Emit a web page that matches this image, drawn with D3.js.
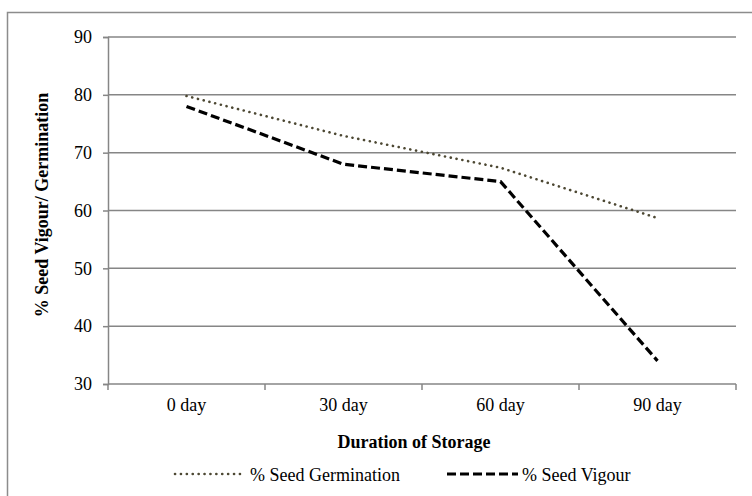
<!DOCTYPE html>
<html>
<head>
<meta charset="utf-8">
<script src="https://cdn.jsdelivr.net/npm/d3@7"></script>
<style>
  body { margin: 0; background: #fff; }
</style>
</head>
<body>
<div id="chart"></div>
<script>
"use strict";

var categories = ["0 day", "30 day", "60 day", "90 day"];
var germination = [79.8, 72.9, 67.4, 58.7];
var vigour = [78, 68, 65, 34];
var yTicks = [30, 40, 50, 60, 70, 80, 90];
var seriesNames = ["% Seed Germination", "% Seed Vigour"];

var FONT = "'Liberation Serif', 'Times New Roman', serif";
var FS = "18px";

var W = 752, H = 496;
var margin = { top: 37, right: 16, bottom: 112, left: 108 },
        width = W - margin.left - margin.right,
        height = H - margin.top - margin.bottom;

var svg = d3.select("#chart")
        .append("svg")
        .attr("width", W)
        .attr("height", H)
        .style("font-family", FONT);

// outer chart border (right and bottom fall outside the picture)
svg.append("rect")
        .attr("x", 7.5).attr("y", 12.5)
        .attr("width", 760).attr("height", 500)
        .attr("fill", "none")
        .attr("stroke", "#8c8c8c")
        .attr("stroke-width", 1.5);

var g = svg.append("g")
        .attr("transform", "translate(" + margin.left + "," + margin.top + ")");

var x = d3.scaleBand()
        .range([0, width])
        .domain(categories)
        .padding(0);

var y = d3.scaleLinear()
        .domain([30, 90])
        .range([height, 0]);

// gridlines
g.selectAll("line.grid")
        .data(yTicks.slice(1))
        .enter()
        .append("line")
        .attr("class", "grid")
        .attr("x1", 0).attr("x2", width)
        .attr("y1", function (d) { return y(d); })
        .attr("y2", function (d) { return y(d); })
        .attr("stroke", "#868686")
        .attr("stroke-width", 1.5);

// y axis
var yAxis = g.append("g")
        .call(d3.axisLeft(y).tickValues(yTicks).tickSize(5).tickPadding(11))
        .attr("font-family", null);
yAxis.select(".domain").attr("stroke", "#868686").attr("stroke-width", 1.5);
yAxis.selectAll(".tick line").attr("stroke", "#868686").attr("stroke-width", 1.5);
yAxis.selectAll("text")
        .style("font-family", FONT)
        .style("font-size", FS)
        .attr("fill", "#000");

// x axis: ticks at category boundaries
var xAxis = g.append("g")
        .attr("transform", "translate(0," + height + ")");
xAxis.append("line")
        .attr("x1", 0).attr("x2", width)
        .attr("stroke", "#868686").attr("stroke-width", 1.5);
xAxis.selectAll("line.tk")
        .data(categories.concat([null]))
        .enter()
        .append("line")
        .attr("class", "tk")
        .attr("x1", function (d, i) { return i * x.step(); })
        .attr("x2", function (d, i) { return i * x.step(); })
        .attr("y1", 0).attr("y2", 6)
        .attr("stroke", "#868686").attr("stroke-width", 1.5);
xAxis.selectAll("text")
        .data(categories)
        .enter()
        .append("text")
        .attr("x", function (d) { return x(d) + x.bandwidth() / 2; })
        .attr("y", 27)
        .attr("text-anchor", "middle")
        .style("font-family", FONT)
        .style("font-size", FS)
        .text(function (d) { return d; });

// axis titles
svg.append("text")
        .attr("x", 414)
        .attr("y", 448)
        .attr("text-anchor", "middle")
        .style("font-family", FONT)
        .style("font-size", FS)
        .style("font-weight", "bold")
        .text("Duration of Storage");

svg.append("text")
        .attr("transform", "translate(48,205)rotate(-90)")
        .attr("text-anchor", "middle")
        .style("font-family", FONT)
        .style("font-size", FS)
        .style("font-weight", "bold")
        .text("% Seed Vigour/ Germination");

// lines
var line = d3.line()
        .x(function (d, i) { return x(categories[i]) + x.bandwidth() / 2; })
        .y(function (d) { return y(d); });

g.append("path")
        .datum(germination)
        .attr("d", line)
        .attr("fill", "none")
        .attr("stroke", "#4d4833")
        .attr("stroke-width", 2.6)
        .attr("stroke-linecap", "round")
        .attr("stroke-dasharray", "0.1,5.8");

g.append("path")
        .datum(vigour)
        .attr("d", line)
        .attr("fill", "none")
        .attr("stroke", "#000")
        .attr("stroke-width", 3.2)
        .attr("stroke-dasharray", "9,4");

// legend
var legY = 474;
svg.append("line")
        .attr("x1", 175).attr("x2", 244)
        .attr("y1", legY).attr("y2", legY)
        .attr("stroke", "#4d4833")
        .attr("stroke-width", 2.6)
        .attr("stroke-linecap", "round")
        .attr("stroke-dasharray", "0.1,5.8");
svg.append("text")
        .attr("x", 250).attr("y", 481)
        .style("font-family", FONT)
        .style("font-size", FS)
        .text(seriesNames[0]);

svg.append("line")
        .attr("x1", 447).attr("x2", 518)
        .attr("y1", legY).attr("y2", legY)
        .attr("stroke", "#000")
        .attr("stroke-width", 3.2)
        .attr("stroke-dasharray", "9,4");
svg.append("text")
        .attr("x", 522).attr("y", 481)
        .style("font-family", FONT)
        .style("font-size", FS)
        .text(seriesNames[1]);
</script>
</body>
</html>
